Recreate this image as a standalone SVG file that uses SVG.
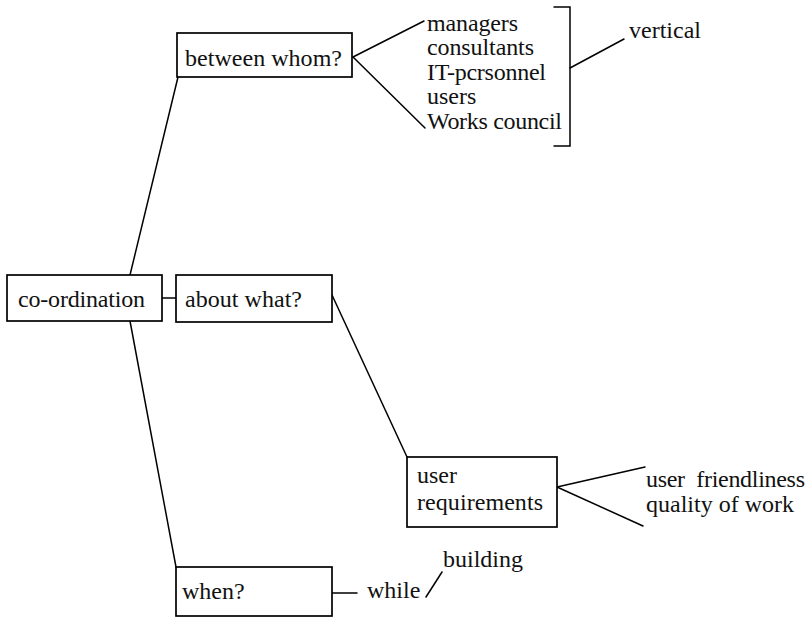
<svg xmlns="http://www.w3.org/2000/svg" width="808" height="621" viewBox="0 0 808 621">
  <style>
    .box { fill: #fff; stroke: #000; stroke-width: 1.7; }
    .ln { fill: none; stroke: #000; stroke-width: 1.5; stroke-linecap: round; }
    text { font-family: "Liberation Serif", "Times New Roman", serif; font-size: 24px; fill: #111; }
  </style>
  <rect width="808" height="621" fill="#fff"/>

  <!-- connectors -->
  <g id="connectors">
    <line class="ln" x1="130" y1="275" x2="178" y2="77"/>
    <line class="ln" x1="130" y1="321" x2="176" y2="567"/>
    <line class="ln" x1="162" y1="298" x2="176" y2="298"/>
    <line class="ln" x1="332" y1="295" x2="407" y2="457"/>
    <line class="ln" x1="353" y1="57" x2="424" y2="21"/>
    <line class="ln" x1="353" y1="57" x2="425" y2="128"/>
    <polyline class="ln" points="554,7 570,7 570,146 554,146"/>
    <line class="ln" x1="570" y1="68" x2="624" y2="39"/>
    <line class="ln" x1="557" y1="487" x2="645" y2="467"/>
    <line class="ln" x1="557" y1="487" x2="643" y2="526"/>
    <line class="ln" x1="332" y1="593" x2="357" y2="593"/>
    <line class="ln" x1="426" y1="597" x2="442" y2="572"/>
  </g>

  <g id="node-coordination">
    <rect class="box" x="7" y="275" width="155" height="46"/>
    <text x="18" y="307" textLength="127">co-ordination</text>
  </g>

  <g id="node-between">
    <rect class="box" x="177" y="33" width="175" height="44"/>
    <text x="185" y="66" textLength="157">between whom?</text>
  </g>

  <g id="node-about">
    <rect class="box" x="176" y="275" width="156" height="47"/>
    <text x="185" y="307" textLength="117">about what?</text>
  </g>

  <g id="node-when">
    <rect class="box" x="176" y="567" width="156" height="49"/>
    <text x="182" y="599">when?</text>
  </g>

  <g id="node-requirements">
    <rect class="box" x="407" y="457" width="150" height="70"/>
    <text x="417" y="483">user</text>
    <text x="417" y="510" textLength="126">requirements</text>
  </g>

  <g id="node-parties">
    <text x="427" y="31" textLength="91">managers</text>
    <text x="427" y="55" textLength="107">consultants</text>
    <text x="427" y="80" textLength="119">IT-pcrsonnel</text>
    <text x="427" y="104">users</text>
    <text x="427" y="129" textLength="135">Works council</text>
  </g>

  <g id="node-vertical">
    <text x="629" y="38">vertical</text>
  </g>

  <g id="node-criteria">
    <text x="646" y="487" textLength="159" xml:space="preserve">user  friendliness</text>
    <text x="646" y="512" textLength="148">quality of work</text>
  </g>

  <g id="node-while">
    <text x="367" y="598">while</text>
  </g>

  <g id="node-building">
    <text x="443" y="567">building</text>
  </g>
</svg>
